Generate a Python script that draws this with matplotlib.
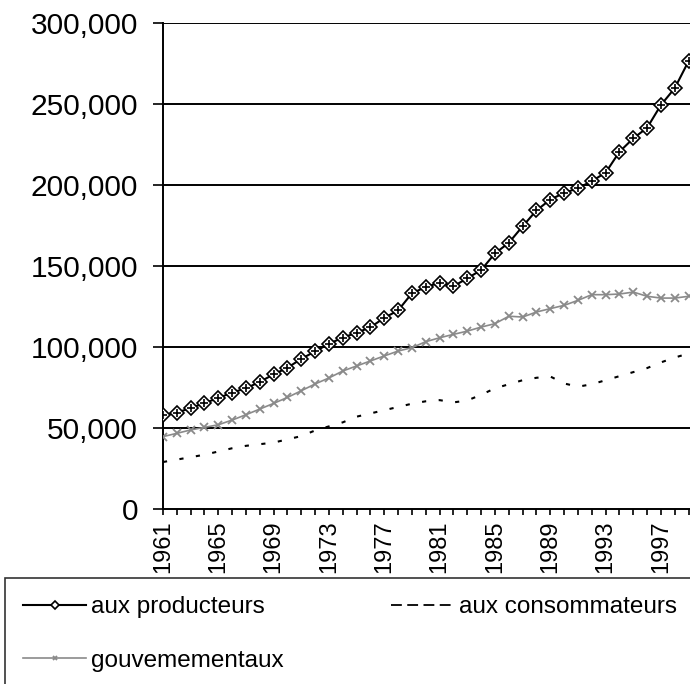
import matplotlib.pyplot as plt
from matplotlib.lines import Line2D
from matplotlib.ticker import FuncFormatter, MultipleLocator

plt.rcParams['font.family'] = ['Liberation Sans', 'DejaVu Sans']

years = list(range(1961, 2000))

# transferts aux producteurs
producteurs = [58.0, 59.5, 62.3, 65.4, 68.5, 71.9, 74.5, 78.5, 83.1, 87.2,
               92.7, 97.3, 102.0, 105.8, 108.8, 112.2, 118.0, 122.6, 133.2, 137.0,
               139.7, 137.5, 142.4, 147.5, 157.8, 164.3, 174.5, 184.3, 191.0, 195.1,
               198.0, 202.4, 207.6, 220.5, 228.8, 235.3, 249.4, 259.8, 276.5]

consommateurs = [29.0, 30.5, 32.0, 33.5, 35.5, 37.5, 39.0, 40.0, 41.0, 43.0,
                 45.0, 48.5, 51.0, 53.5, 57.0, 59.0, 61.0, 63.0, 65.0, 66.5,
                 67.2, 65.8, 67.0, 70.5, 74.5, 77.0, 79.5, 81.0, 81.8, 77.5,
                 75.5, 77.0, 79.5, 82.0, 84.5, 87.0, 90.5, 93.5, 96.0]

gouvernementaux = [44.7, 46.7, 48.8, 50.4, 52.0, 54.9, 58.2, 61.7, 65.2, 68.9,
                   73.0, 77.2, 80.9, 85.2, 88.3, 91.4, 94.5, 97.5, 99.6, 103.3,
                   105.7, 107.8, 109.8, 112.3, 114.4, 119.0, 118.5, 121.6, 123.7, 125.7,
                   128.8, 132.3, 132.3, 132.7, 133.9, 131.3, 130.2, 130.2, 131.3]

labels = ['aux producteurs', 'aux consommateurs', 'gouvemementaux']

prod = [v * 1000 for v in producteurs]
cons = [v * 1000 for v in consommateurs]
gouv = [v * 1000 for v in gouvernementaux]

fig = plt.figure(figsize=(6.9, 6.84), dpi=100)
ax = fig.add_axes([163 / 690, 1 - 509 / 684, 1 - 163 / 690, (509 - 23) / 684])

for y in range(50000, 300001, 50000):
    ax.axhline(y, color='black', lw=1.4, zorder=1)

l_gouv, = ax.plot(years, gouv, color='#8a8a8a', lw=1.2, marker='x', ms=6,
                  mew=1.3, zorder=3)
ax.plot(years, cons, color='black', lw=1.5, dashes=(2, 6), zorder=3)
l_prod, = ax.plot(years, prod, color='black', lw=1.5, marker='D', ms=7,
                  mfc='white', mec='black', mew=1.2, zorder=4)
ax.plot(years, prod, ls='none', marker='+', ms=6, mec='black', mew=1.2, zorder=5)
# legend sample uses longer dashes, as in the source chart
l_cons = Line2D([], [], color='black', lw=1.3, dashes=(6, 3))

ax.set_xlim(1961, 1999.1)
ax.set_ylim(0, 300000)

ax.yaxis.set_major_locator(MultipleLocator(50000))
ax.yaxis.set_major_formatter(FuncFormatter(lambda v, p: '{:,.0f}'.format(v)))
ax.set_xticks(years)
ax.set_xticklabels([str(y) if (y - 1961) % 4 == 0 else '' for y in years],
                   rotation=90)

ax.tick_params(axis='y', direction='out', length=7, width=1.2, pad=11,
               labelsize=21.5)
ax.tick_params(axis='x', direction='out', length=4, width=1.2, pad=4,
               labelsize=17)

for s in ['top', 'right']:
    ax.spines[s].set_visible(False)
ax.spines['left'].set_linewidth(1.4)
ax.spines['bottom'].set_linewidth(1.4)

top = 1 - 578 / 684
leg = fig.legend([l_prod, l_gouv, l_cons], [labels[0], labels[2], labels[1]],
                 ncol=2, loc='upper left', mode='expand',
                 bbox_to_anchor=(5 / 690, -0.3, 690 / 690, top + 0.3),
                 fontsize=17.5, frameon=True, fancybox=False, edgecolor='black',
                 handlelength=2.6, handletextpad=0.2, markerscale=0.6,
                 labelspacing=1.3, borderpad=0.75, borderaxespad=0)
leg.get_frame().set_linewidth(1.2)

fig.savefig('out.png', dpi=100)
